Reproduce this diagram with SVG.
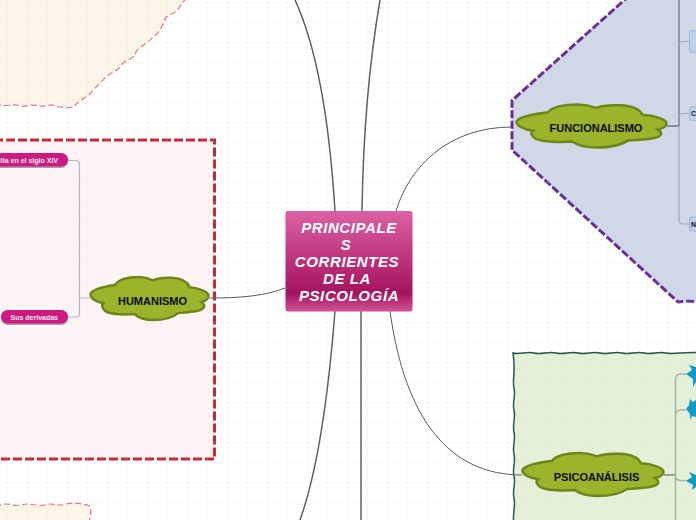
<svg xmlns="http://www.w3.org/2000/svg" width="696" height="520" viewBox="0 0 696 520">
<defs>
<pattern id="grid" width="20" height="20" patternUnits="userSpaceOnUse" x="8" y="3"><path d="M20,0V20M0,20H20" fill="none" stroke="#dcdce0" stroke-opacity=".3" stroke-width="1"/></pattern>
<linearGradient id="cg" x1="0" y1="0" x2="0" y2="1"><stop offset="0" stop-color="#dc62a4"/><stop offset=".82" stop-color="#a5135f"/><stop offset="1" stop-color="#d2549a"/></linearGradient>
<path id="cloud" vector-effect="non-scaling-stroke" d="M0,40C1,28 12,22 21,18C24,6 32,0 41,0C47,0 50,4 53,8C56,4 62,1 69,2C77,3 82,10 84,24C92,26 100,34 100,44C100,52 97,56 94,58C98,66 97,76 90,79C84,82 78,83 74,84C70,94 62,100 53,100C46,100 40,93 37,86C30,88 18,88 13,80C10,74 9,66 11,61C5,58 0,50 0,40Z"/>
</defs>
<style>
text{font-family:"Liberation Sans",Arial,sans-serif}
.cloud{fill:#9bb42c;stroke:#6c8619;stroke-width:2.5}
.ct{font-size:11px;font-weight:700;fill:#0c0c0c;text-anchor:middle}
.pill{fill:#cc1a80}
.pt{font-size:7px;font-weight:700;fill:#fbe9f3;text-anchor:end}
.main{fill:none;stroke:#5a616b;stroke-width:1.5}
.thin{fill:none;stroke:#555b63;stroke-width:1}
.blue{fill:#bcd0e8;stroke:#a3bbd8;stroke-width:1}
.bt{font-size:7px;font-weight:700;fill:#111}
.star{fill:#1299c4}
.ht{font-size:15px;font-weight:700;font-style:italic;fill:#fff;text-anchor:middle;letter-spacing:.6px}
</style>
<rect width="696" height="520" fill="#fff"/>
<g id="regions">
<path d="M-5,105H0C6,107 12,104 17,105C23,108 29,105 35,105C41,108 47,105 53,105C59,108 68,108 74,107C78,100 86,98 90,94C94,88 100,84 104,79C110,72 118,72 122,64C128,58 134,60 136,52C140,46 148,43 152,38C158,34 162,28 166,17C172,14 178,12 182,3L190,-5H-5Z" fill="#fbf6e9" stroke="#f26d78" stroke-width="1.200" stroke-dasharray="6 3"/>
<rect x="-6" y="140" width="220.500" height="319" fill="#fef4f5" stroke="#c32b39" stroke-width="3" stroke-dasharray="9 3"/>
<path d="M-5,505H0C8,502 14,507 22,505C30,502 36,507 44,505C52,502 58,507 66,504C74,502 84,504 90,506C92,511 90,516 89,525H-5Z" fill="#fbf6e9" stroke="#f26d78" stroke-width="1.200" stroke-dasharray="6 3"/>
<path d="M630,-5L512,100.500L512,150L678,302C684,301 690,301 701,302V-5Z" fill="#d0d7e7" stroke="#6a2d98" stroke-width="3" stroke-dasharray="8 2.500"/>
<path d="M513,353C520,355 526,351 534,353C542,355 548,351 556,353C564,355 570,351 578,353C586,355 592,351 600,353C608,355 614,351 622,353C630,355 636,351 644,353C652,355 658,351 666,353C674,355 686,351 701,353V525H514C512,512 516,506 514,498C512,490 516,484 514,476C512,468 516,462 514,454C512,446 516,440 514,432C512,424 516,418 514,410C512,402 516,396 514,388C512,380 516,372 513,353Z" fill="#e5f0d9" stroke="#1e5a4c" stroke-width="1.500"/>
</g>
<rect id="grid-overlay" width="696" height="520" fill="url(#grid)"/>
<g id="connectors">
<path class="main" d="M295,0C318,50 330,130 335,211"/>
<path class="main" d="M380,0C368,70 363,140 362,211"/>
<path class="thin" d="M396,211C410,165 450,127 512,127"/>
<path class="thin" d="M285,288C265,296 240,298 210,298"/>
<path class="main" d="M335,311C328,400 318,470 300,520"/>
<path class="main" d="M361,311V520"/>
<path class="thin" d="M390,311C405,420 450,475 522,475"/>
<path d="M79.500,298V164Q79.500,160.500 76,160.500H68M79.500,298V313.500Q79.500,317 76,317H68M79.500,298H90" fill="none" stroke="#b4b4bb" stroke-width="1.200"/>
<path d="M667,126H679" fill="none" stroke="#6b7280" stroke-width="1.500"/>
<path d="M679,0V126" fill="none" stroke="#7c8494" stroke-width="1.500"/>
<path d="M679,126V219Q679,224 683,224H689" fill="none" stroke="#a2a8b6" stroke-width="1.200"/>
<path d="M679,46Q679,41.500 683,41.500H689M679,118Q679,113.500 683,113.500H689" fill="none" stroke="#a2a8b6" stroke-width="1"/>
<path d="M664,475H675" fill="none" stroke="#7f8a7d" stroke-width="1.500"/>
<path d="M675.500,520V380Q675.500,374 681,374H686M675.500,416Q675.500,410 681,410H686M675.500,475Q675.500,480 680,480.500H686" fill="none" stroke="#a9b4a4" stroke-width="1.500"/>
</g>
<g id="central">
<rect x="285.500" y="211" width="127" height="100.500" rx="2" fill="url(#cg)"/>
<text class="ht" x="349" y="233">PRINCIPALE</text>
<text class="ht" x="346" y="250">S</text>
<text class="ht" x="347" y="267">CORRIENTES</text>
<text class="ht" x="347" y="284">DE LA</text>
<text class="ht" x="349" y="301">PSICOLOGÍA</text>
</g>
<g id="humanismo">
<use href="#cloud" class="cloud" transform="translate(90.500 277) scale(1.180 .43)"/>
<text class="ct" x="152.500" y="305">HUMANISMO</text>
</g>
<g id="funcionalismo">
<use href="#cloud" class="cloud" transform="translate(516.500 104.500) scale(1.500 .43)"/>
<text class="ct" x="596" y="132">FUNCIONALISMO</text>
</g>
<g id="psicoanalisis">
<use href="#cloud" class="cloud" transform="translate(522.500 453) scale(1.410 .43)"/>
<text class="ct" x="596.500" y="481">PSICOANÁLISIS</text>
</g>
<g id="pill-siglo">
<rect x="-30" y="154" width="98" height="14" rx="6.500" fill="#a9a0a8"/>
<rect x="-30" y="153" width="98" height="13.500" rx="6.500" class="pill"/>
<text class="pt" x="58" y="163">illa en el siglo XIV</text>
</g>
<g id="pill-derivadas">
<rect x="1" y="311" width="67" height="14" rx="6.500" fill="#a9a0a8"/>
<rect x="1" y="310" width="67" height="13.500" rx="6.500" class="pill"/>
<text class="pt" x="58" y="320">Sus derivadas</text>
</g>
<g id="blue-1"><rect class="blue" x="689.500" y="30.500" width="14" height="22" rx="2"/></g>
<g id="blue-2"><rect class="blue" x="689.500" y="107" width="14" height="13.500" rx="2"/><text class="bt" x="691" y="116">C</text></g>
<g id="blue-3"><rect class="blue" x="689.500" y="217" width="14" height="14" rx="2"/><text class="bt" x="691" y="227">N</text></g>
<g id="star-1"><path class="star" d="M689,365L696,367V382L693,387L693,379L686,374L692,370Z"/></g>
<g id="star-2"><path class="star" d="M690,399L693,402L696,400V417L692,416L690,420L690,414L686,409L689,405Z"/></g>
<g id="star-3"><path class="star" d="M689,472L696,475V487L692,490L693,485L686,481L692,477Z"/></g>
</svg>
